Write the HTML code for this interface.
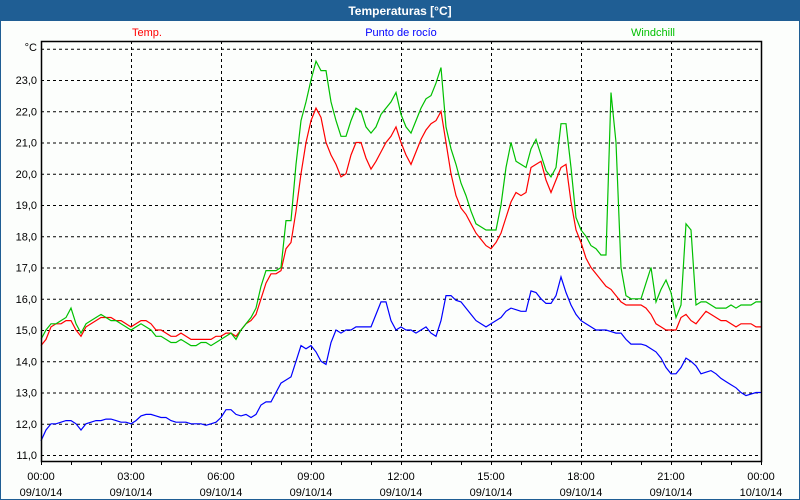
<!DOCTYPE html>
<html><head><meta charset="utf-8"><style>
body{margin:0;background:#fff}
#wrap{position:relative;width:798px;height:498px;border:1px solid #1f5e94;background:#fcfefc;overflow:hidden}
#title{position:absolute;left:0;top:0;width:798px;height:20px;background:#1f5e94;color:#fff;font:bold 12px "Liberation Sans",sans-serif;text-align:center;line-height:20px}
svg{position:absolute;left:0;top:0}
text{font-family:"Liberation Sans","DejaVu Sans",sans-serif;font-size:11px}
</style></head><body>
<div id="wrap">
<div id="title">Temperaturas [°C]</div>
<svg id="chart" width="800" height="500"></svg>
</div>
<script>
const categories = ["00:00","03:00","06:00","09:00","12:00","15:00","18:00","21:00","00:00"];
const dateLabels = ["09/10/14","09/10/14","09/10/14","09/10/14","09/10/14","09/10/14","09/10/14","09/10/14","10/10/14"];
const yTicks = [11,12,13,14,15,16,17,18,19,20,21,22,23];
const temp = [14.5,14.7,15.1,15.2,15.2,15.3, 15.3,15.0,14.8,15.1,15.2,15.3, 15.4,15.4,15.4,15.3,15.3,15.2, 15.1,15.2,15.3,15.3,15.2,15.0, 15.0,14.9,14.8,14.8,14.9,14.8, 14.7,14.7,14.7,14.7,14.7,14.8, 14.8,14.9,14.9,14.8,15.0,15.2, 15.3,15.5,16.0,16.5,16.8,16.8, 16.9,17.6,17.8,18.8,20.0,21.0, 21.7,22.1,21.8,21.0,20.6,20.3, 19.9,20.0,20.6,21.0,21.0,20.5, 20.15,20.4,20.7,21.0,21.2,21.5, 21.0,20.6,20.3,20.7,21.1,21.4, 21.6,21.7,22.0,21.0,20.0,19.3, 18.9,18.7,18.4,18.1,17.9,17.7, 17.6,17.8,18.1,18.6,19.1,19.4, 19.3,19.4,20.2,20.3,20.4,19.8, 19.4,19.8,20.2,20.3,19.1,18.2, 17.8,17.3,17.0,16.8,16.6,16.4, 16.3,16.1,15.9,15.8,15.8,15.8, 15.8,15.7,15.5,15.2,15.1,15.0, 15.0,15.0,15.4,15.5,15.3,15.2, 15.4,15.6,15.5,15.4,15.3,15.3, 15.2,15.1,15.2,15.2,15.2,15.1, 15.1];
const dewPoint = [11.45,11.8,12.0,12.0,12.05,12.1, 12.1,12.0,11.8,12.0,12.05,12.1, 12.1,12.15,12.15,12.1,12.05,12.05, 12.0,12.1,12.25,12.3,12.3,12.25, 12.2,12.2,12.1,12.05,12.05,12.05, 12.0,12.0,12.0,11.95,12.0,12.05, 12.2,12.45,12.45,12.3,12.25,12.3, 12.2,12.3,12.6,12.7,12.7,13.0, 13.3,13.4,13.5,14.0,14.5,14.4, 14.5,14.3,14.0,13.9,14.6,15.0, 14.9,15.0,15.0,15.1,15.1,15.1, 15.1,15.5,15.9,15.9,15.3,15.0, 15.1,15.0,15.0,14.9,15.0,15.1, 14.9,14.8,15.3,16.1,16.1,15.95, 15.9,15.7,15.5,15.3,15.2,15.1, 15.2,15.3,15.4,15.6,15.7,15.65, 15.6,15.6,16.25,16.2,16.0,15.85, 15.85,16.1,16.7,16.2,15.8,15.5, 15.3,15.2,15.1,15.0,15.0,15.0, 14.95,14.9,14.9,14.7,14.55,14.55, 14.55,14.5,14.4,14.3,14.1,13.8, 13.6,13.6,13.8,14.1,14.0,13.85, 13.6,13.65,13.7,13.6,13.45,13.35, 13.25,13.15,13.0,12.9,12.95,13.0, 13.0];
const windchill = [14.7,15.0,15.2,15.2,15.3,15.4, 15.7,15.2,14.9,15.2,15.3,15.4, 15.5,15.4,15.3,15.3,15.2,15.1, 15.0,15.1,15.2,15.1,15.0,14.8, 14.8,14.7,14.6,14.6,14.7,14.6, 14.5,14.5,14.6,14.6,14.5,14.6, 14.7,14.8,14.9,14.7,15.0,15.2, 15.4,15.7,16.4,16.9,16.9,16.9, 17.0,18.5,18.5,20.3,21.7,22.3, 23.0,23.6,23.3,23.3,22.3,21.7, 21.2,21.2,21.7,22.1,22.0,21.5, 21.3,21.5,21.9,22.1,22.3,22.6, 21.9,21.5,21.3,21.7,22.1,22.4, 22.5,22.9,23.4,21.5,20.8,20.3, 19.7,19.3,18.8,18.4,18.3,18.2, 18.2,18.2,19.0,20.2,21.0,20.4, 20.3,20.2,20.8,21.1,20.6,20.1, 19.9,20.2,21.6,21.6,20.2,18.6, 18.2,18.0,17.7,17.6,17.4,17.4, 22.6,21.0,17.0,16.1,16.0,16.0, 16.0,16.5,17.0,15.9,16.3,16.6, 16.2,15.4,15.8,18.4,18.2,15.8, 15.9,15.9,15.8,15.7,15.7,15.7, 15.8,15.7,15.8,15.8,15.8,15.9, 15.9];

const NS='http://www.w3.org/2000/svg';
const svg=document.getElementById('chart');
const L=40,R=760,T=40,B=460;
const xScale=h=>L+(h/24)*(R-L);
const yScale=v=>454-(v-11)*31.25;
function mk(tag,attrs){const e=document.createElementNS(NS,tag);for(const k in attrs)e.setAttribute(k,attrs[k]);svg.appendChild(e);return e;}

// horizontal grid
const gridLevels=yTicks.concat([24]);
gridLevels.forEach(v=>{
  const g=mk('line',{x1:L,x2:R,y1:yScale(v)+0.5,y2:yScale(v)+0.5,stroke:'#000','stroke-dasharray':'3,3','stroke-width':1});
  
  
});
yTicks.forEach(v=>{
  const t=mk('text',{x:36,y:yScale(v)+4,'text-anchor':'end',fill:'#000'});
  t.textContent=v.toFixed(1).replace('.',',');
  
  
});
const unit=mk('text',{x:36,y:yScale(24)+2,'text-anchor':'end',fill:'#000'});
unit.textContent='°C';



// vertical grid + x labels
categories.forEach((c,i)=>{
  const x=xScale(i*3);
  if(i>0&&i<categories.length-1){
    const g=mk('line',{x1:x+0.5,x2:x+0.5,y1:T,y2:B,stroke:'#000','stroke-dasharray':'3,3'});
    
    
  }
  const t=mk('text',{x:x,y:479,'text-anchor':'middle',fill:'#000'});
  t.textContent=c;
  
  
  const d=mk('text',{x:x,y:495,'text-anchor':'middle',fill:'#000'});
  d.textContent=dateLabels[i];
  
  
});
for(let h=0;h<=24;h++){
  const x=xScale(h)+0.5;
  const tk=mk('line',{x1:x,x2:x,y1:B,y2:B+4,stroke:'#000'});
  
  
}

// series
function series(vals,color,name){
  const pts=vals.map((v,i)=>xScale(i/6).toFixed(1)+','+yScale(v).toFixed(1)).join(' ');
  const p=mk('polyline',{points:pts,fill:'none',stroke:color,'stroke-width':1.2});
  
  
}
series(dewPoint,'#0000ff','dew-point-line');
series(temp,'#ff0000','temp-line');
series(windchill,'#00c000','windchill-line');

// frame
const fr=mk('rect',{x:L+0.5,y:T+0.5,width:R-L,height:B-T,fill:'none',stroke:'#000','stroke-width':1.5});



// legend
[['Temp.','#ff0000',146,'legend-temp'],['Punto de rocío','#0000ff',400,'legend-dew-point'],['Windchill','#00c000',652,'legend-windchill']].forEach(l=>{
  const t=mk('text',{x:l[2],y:35,'text-anchor':'middle',fill:l[1]});
  t.textContent=l[0];
  
  
});
</script>
</body></html>
